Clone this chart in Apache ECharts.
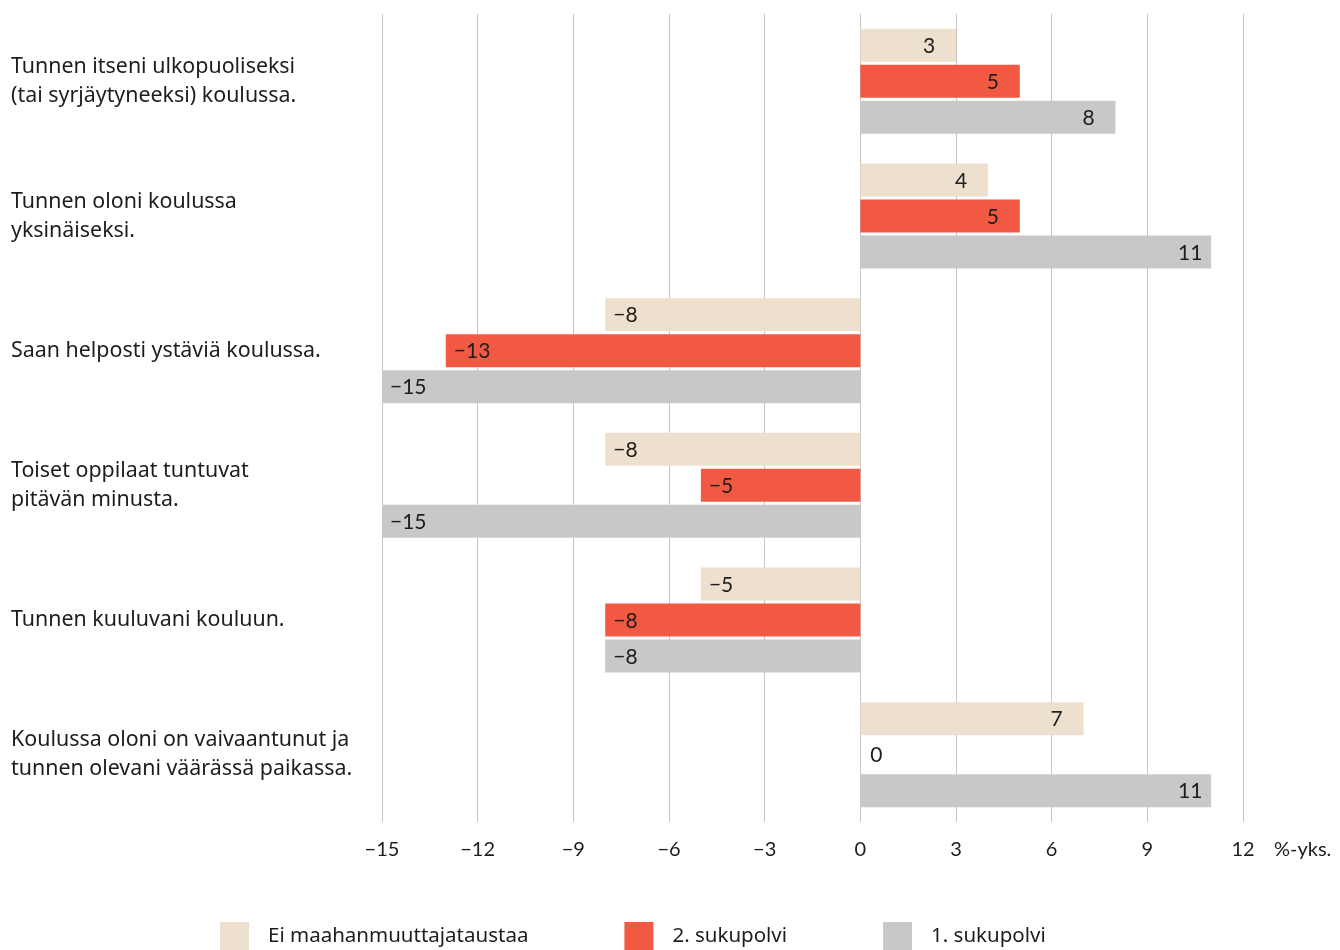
<!DOCTYPE html>
<html lang="fi">
<head>
    <meta charset="UTF-8">
    <title>Koulukokemukset</title>
    <script src="https://cdn.jsdelivr.net/npm/echarts@6/dist/echarts.min.js"></script>
</head>
<body style="margin:0;background:#fff">
    <div id="chart" style="width:1340px;height:950px;"></div>
<script type="text/javascript">
    // kategoriat ylhäältä alas
    var categories = [
        'Tunnen itseni ulkopuoliseksi\n(tai syrjäytyneeksi) koulussa.',
        'Tunnen oloni koulussa\nyksinäiseksi.',
        'Saan helposti ystäviä koulussa.',
        'Toiset oppilaat tuntuvat\npitävän minusta.',
        'Tunnen kuuluvani kouluun.',
        'Koulussa oloni on vaivaantunut ja\ntunnen olevani väärässä paikassa.'
    ];
    var seriesNames = ['Ei maahanmuuttajataustaa', '2. sukupolvi', '1. sukupolvi'];
    var eiTaustaa = [3, 4, -8, -8, -5, 7];
    var toinenPolvi = [5, 5, -13, -5, -8, 0];
    var ensimmainenPolvi = [8, 11, -15, -15, -8, 11];
    var xTicks = [-15, -12, -9, -6, -3, 0, 3, 6, 9, 12];
    var colors = ['#ede0cf', '#f25943', '#c8c9c6'];

    var font = 'Lato, "Open Sans", sans-serif';
    var textFont = '"Noto Sans", "Open Sans", sans-serif';
    var textColor = '#1d1d1b';

    function minus(v) {
        return String(v).replace('-', '\u2212');
    }

    // arvon mukaan label vasemmalle / oikealle
    function buildData(values) {
        return values.map(function (v) {
            var lbl;
            if (v > 0) lbl = { position: 'insideRight', distance: 11 };
            else if (v < 0) lbl = { position: 'insideLeft', distance: 8 };
            else lbl = { position: 'right', distance: 10 };
            return { value: v, label: lbl };
        });
    }

    function makeSeries(name, values, color) {
        return {
            name: name,
            type: 'bar',
            data: buildData(values),
            barWidth: 33,
            barGap: '9%',
            itemStyle: { color: color },
            label: {
                show: true,
                fontFamily: font,
                fontSize: 21,
                color: textColor,
                formatter: function (p) {
                    var v = p.value;
                    if (v > 0) return '{p|' + v + '}';
                    return '{n|' + minus(v) + '}';
                },
                rich: {
                    p: { width: 22, align: 'left', fontFamily: font, fontSize: 21, color: textColor, padding: [2, 0, 0, 0] },
                    n: { fontFamily: font, fontSize: 21, color: textColor, padding: [2, 0, 0, 0] }
                }
            }
        };
    }

    var chart = echarts.init(document.getElementById('chart'));
    chart.setOption({
        animation: false,
        color: colors,
        grid: { left: 382, right: 97, top: 14, bottom: 128 },
        legend: {
            data: seriesNames,
            left: 220,
            top: 922,
            padding: 0,
            itemWidth: 29,
            itemHeight: 29,
            itemGap: 96,
            icon: 'rect',
            textStyle: { fontFamily: textFont, fontSize: 20.5, color: textColor, padding: [2, 0, 0, 14] }
        },
        xAxis: {
            type: 'value',
            min: xTicks[0],
            max: xTicks[xTicks.length - 1],
            interval: 3,
            axisLine: { show: false },
            axisTick: { show: false },
            splitLine: { lineStyle: { color: '#c6c6c6', width: 1 } },
            axisLabel: {
                margin: 18,
                fontFamily: font,
                fontSize: 20,
                color: textColor,
                formatter: minus
            },
            name: '%-yks.',
            nameLocation: 'end',
            nameGap: 31,
            nameTextStyle: {
                fontFamily: font,
                fontSize: 20,
                color: textColor,
                align: 'left',
                verticalAlign: 'top',
                lineHeight: 20,
                padding: [18, 0, 0, 0]
            }
        },
        yAxis: {
            type: 'category',
            inverse: true,
            data: categories,
            axisLine: { show: false },
            axisTick: { show: false },
            splitLine: { show: false },
            axisLabel: {
                align: 'left',
                margin: 371,
                fontFamily: textFont,
                fontSize: 21.4,
                lineHeight: 29,
                padding: [8, 0, 0, 0],
                color: textColor
            }
        },
        series: [
            makeSeries(seriesNames[0], eiTaustaa, colors[0]),
            makeSeries(seriesNames[1], toinenPolvi, colors[1]),
            makeSeries(seriesNames[2], ensimmainenPolvi, colors[2])
        ]
    });
</script>
</body>
</html>
